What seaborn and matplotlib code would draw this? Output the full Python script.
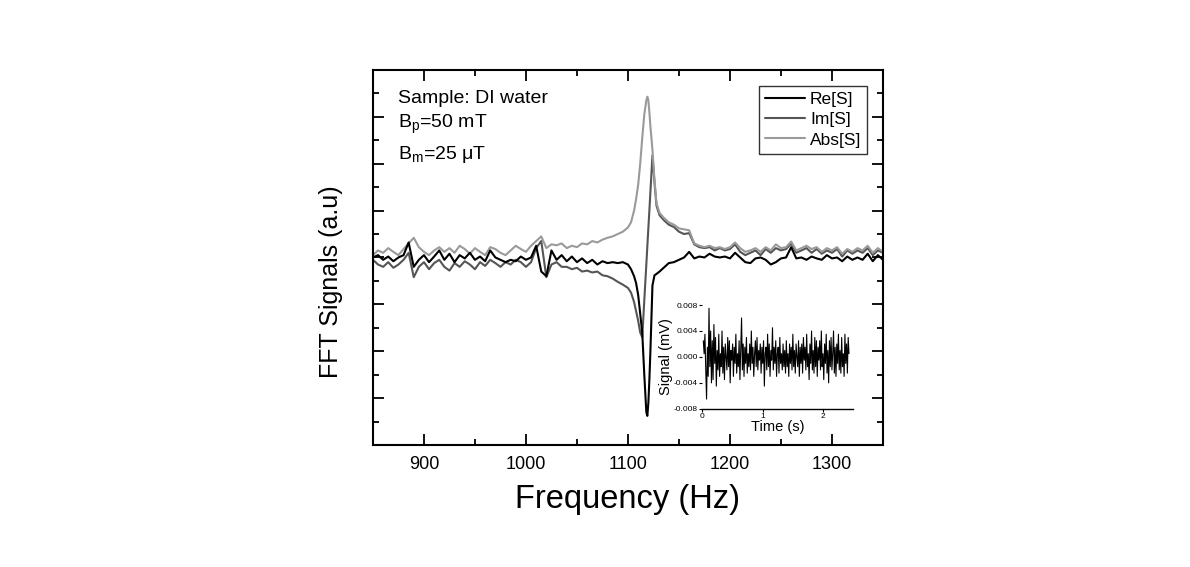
import numpy as np
import pandas as pd
import seaborn as sns
import matplotlib.pyplot as plt
from matplotlib.ticker import MultipleLocator, FormatStrFormatter

# frequency grid (Hz): coarse baseline, fine around the resonance
freq = np.concatenate([
    np.arange(850, 1101, 5),
    [1103, 1106, 1108, 1110, 1112, 1114, 1116, 1118, 1119, 1120,
     1121, 1122, 1124, 1126, 1128, 1131, 1135, 1140, 1145],
    np.arange(1150, 1351, 5),
])

re_s = [
    0.0, 0.05, -0.05, 0.02, -0.08, 0.0, 0.05, 0.32, -0.2, -0.05,
    0.05, -0.1, 0.02, 0.15, -0.05, 0.08, -0.1, 0.05, -0.02, 0.1,
    -0.05, 0.02, -0.08, 0.15, 0.0, -0.05, -0.1, -0.05, -0.08, 0.02,
    -0.05, 0.0, 0.25, -0.3, -0.4, 0.15, -0.05, 0.05, -0.08, 0.02,
    -0.1, -0.02, -0.12, -0.05, -0.15, -0.08, -0.12, -0.1, -0.12, -0.1,
    -0.15,
    -0.25, -0.4, -0.55, -0.8, -1.2, -1.6, -2.5, -3.3, -3.38, -3.1,
    -2.6, -2.0, -0.6, -0.38, -0.35, -0.3, -0.22, -0.12, -0.1,
    -0.05, 0.0, 0.12, -0.02, 0.02, 0.0, 0.08, 0.02, 0.0, 0.02,
    -0.02, 0.1, 0.0, -0.1, -0.12, -0.02, 0.0, -0.05, -0.15, -0.1,
    -0.02, 0.0, 0.22, -0.02, 0.0, -0.05, 0.02, -0.02, -0.05, 0.05,
    -0.02, 0.0, -0.08, 0.02, -0.05, 0.0, -0.05, 0.08, -0.08, 0.05,
    -0.05,
]

im_s = [
    -0.05, -0.15, -0.2, -0.1, -0.22, -0.15, -0.05, 0.1, -0.42, -0.2,
    -0.1, -0.25, -0.12, -0.05, -0.2, -0.28, -0.12, -0.2, -0.08, -0.15,
    -0.25, -0.1, -0.18, -0.05, -0.12, -0.2, -0.1, -0.15, -0.05, -0.1,
    -0.2, -0.1, 0.2, 0.35, -0.42, -0.15, -0.1, -0.2, -0.2, -0.25,
    -0.22, -0.3, -0.28, -0.32, -0.3, -0.38, -0.4, -0.45, -0.52, -0.58,
    -0.65,
    -0.75, -0.95, -1.15, -1.35, -1.6, -1.7, -0.92, -0.15, 0.24, 0.63,
    1.0, 1.4, 2.18, 1.6, 1.1, 0.9, 0.8, 0.7, 0.65,
    0.55, 0.5, 0.52, 0.28, 0.22, 0.2, 0.22, 0.15, 0.2, 0.15,
    0.18, 0.28, 0.12, 0.05, 0.1, 0.15, 0.05, 0.18, 0.1, 0.2,
    0.15, 0.18, 0.3, 0.1, 0.15, 0.2, 0.1, 0.18, 0.08, 0.15,
    0.1, 0.18, 0.02, 0.15, 0.08, 0.15, 0.1, 0.2, 0.05, 0.15,
    0.1,
]

abs_s = [
    0.05, 0.15, 0.1, 0.2, 0.12, 0.05, 0.18, 0.3, 0.42, 0.22,
    0.12, 0.05, 0.15, 0.22, 0.12, 0.2, 0.1, 0.25, 0.18, 0.08,
    0.2, 0.12, 0.05, 0.22, 0.18, 0.1, 0.05, 0.15, 0.25, 0.18,
    0.12, 0.25, 0.35, 0.45, 0.2, 0.28, 0.26, 0.3, 0.2, 0.25,
    0.22, 0.3, 0.28, 0.35, 0.32, 0.38, 0.42, 0.45, 0.5, 0.55,
    0.64,
    0.75, 1.0, 1.25, 1.55, 2.0, 2.55, 3.05, 3.35, 3.43, 3.35,
    3.1, 2.8, 2.3, 1.65, 1.15, 0.95, 0.85, 0.75, 0.7,
    0.62, 0.6, 0.58, 0.3, 0.25, 0.22, 0.25, 0.2, 0.22, 0.18,
    0.22, 0.32, 0.2, 0.12, 0.15, 0.2, 0.12, 0.22, 0.15, 0.28,
    0.2, 0.22, 0.34, 0.15, 0.2, 0.25, 0.18, 0.22, 0.12, 0.2,
    0.15, 0.22, 0.08, 0.18, 0.12, 0.2, 0.15, 0.25, 0.1, 0.2,
    0.12,
]

labels = ["Re[S]", "Im[S]", "Abs[S]"]
colors = {"Re[S]": "#000000", "Im[S]": "#555555", "Abs[S]": "#9a9a9a"}

# inset: time-domain signal, in units of 1e-3 mV
sig_e3 = [
    2.5, 0.5, 3.5, -2.0, -6.5, 1.5, -3.0, 7.5, -1.5, 4.0, -4.0, 2.5, -3.5, 5.0, -1.0, 3.0, -4.5, 1.0, -2.0, 3.5,
    -3.0, 0.5, -1.5, 4.0, -2.5, 1.5, -3.5, 2.0, 0.0, -2.0, 3.0, -1.5, 2.5, -4.0, 1.0, -0.5, 2.0, -3.0, 1.5, -1.0,
    3.5, -2.5, 0.5, -1.5, 2.5, -3.5, 1.0, 6.0, -2.0, 2.0, -3.0, 1.5, -1.0, 3.0, -2.5, 0.5, -1.5, 2.0, -2.0, 4.0,
    -1.0, 1.5, -3.0, 0.5, 2.5, -1.5, 3.0, -2.0, 1.0, -0.5, 2.0, -2.5, 1.5, -1.0, 2.5, -4.5, 0.5, 1.5, -2.0, 3.5,
    -1.5, 2.0, -3.0, 1.0, -0.5, 4.5, -2.0, 1.5, -1.0, 2.5, -3.0, 0.5, 1.5, -2.5, 3.0, -1.0, 0.5, -2.0, 2.0, -1.5,
    1.0, -2.5, 2.5, -1.5, 0.5, -3.0, 2.0, -1.0, 1.5, -2.0, 3.5, -1.5, 1.0, -2.5, 2.0, 0.0, -1.5, 2.5, -3.0, 1.5,
    -1.0, 2.0, -2.5, 3.0, -0.5, 1.5, -2.0, 3.5, -1.5, 0.5, -3.5, 2.0, -1.0, 4.0, -2.0, 1.0, -2.5, 3.0, -1.5, 2.5,
    -3.0, 1.5, -0.5, 2.5, -2.0, 4.0, -1.5, 0.5, -3.5, 2.0, -1.0, 3.5, -2.5, 1.0, -4.0, 2.5, -1.5, 3.0, -2.0, 0.5,
    4.0, -2.5, 1.5, -3.0, 2.0, -1.0, 3.5, -2.0, 1.0, -2.5, 3.0, -1.5, 0.5, -3.0, 3.5, -1.0, 2.0, -2.5, 3.0, 0.5,
]
time_s = np.linspace(0.02, 2.43, len(sig_e3))

sns.set_theme(style="ticks")
plt.rcParams["font.family"] = ["Liberation Sans", "DejaVu Sans"]
plt.rcParams["mathtext.fontset"] = "custom"
plt.rcParams["mathtext.rm"] = "Liberation Sans"
plt.rcParams["mathtext.it"] = "Liberation Sans:italic"
for key in ["text.color", "axes.labelcolor", "xtick.color", "ytick.color"]:
    plt.rcParams[key] = "black"

df = pd.DataFrame({
    "Frequency": np.tile(freq, 3),
    "Signal": re_s + im_s + abs_s,
    "Component": np.repeat(labels, len(freq)),
})

fig = plt.figure(figsize=(11.9, 5.67), dpi=100)
ax = fig.add_axes([0.3134, 0.2152, 0.4286, 0.6614])

sns.lineplot(data=df, x="Frequency", y="Signal", hue="Component", hue_order=labels,
             palette=colors, estimator=None, sort=False, lw=1.5, ax=ax)
ax.lines[0].set_zorder(4)

ax.set_xlim(850, 1350)
ax.set_ylim(-4, 4)
ax.xaxis.set_major_locator(MultipleLocator(100))
ax.xaxis.set_minor_locator(MultipleLocator(50))
ax.yaxis.set_major_locator(MultipleLocator(1))
ax.yaxis.set_minor_locator(MultipleLocator(0.5))
ax.tick_params(which="both", direction="in", top=True, right=True, width=1.3,
               labelleft=False, labelsize=13)
ax.tick_params(which="major", length=8, pad=8)
ax.tick_params(which="minor", length=4)
for s in ax.spines.values():
    s.set_linewidth(1.5)
    s.set_color("black")

ax.set_xlabel("Frequency (Hz)", fontsize=23.5, labelpad=8)
ax.set_ylabel("FFT Signals (a.u)", fontsize=18)
ax.yaxis.set_label_coords(-0.058, 0.436)

handles, labs = ax.get_legend_handles_labels()
leg = ax.legend(handles, labs, loc="upper right", fontsize=12.5, frameon=True,
                fancybox=False, edgecolor="black", handlelength=2.3,
                labelspacing=0.3, borderaxespad=0.9, borderpad=0.35,
                handletextpad=0.3)
leg.get_frame().set_linewidth(1.0)

ax.text(0.049, 0.912, "Sample: DI water", transform=ax.transAxes, fontsize=14)
ax.text(0.049, 0.845, r"B$_{\rm p}$=50 mT", transform=ax.transAxes, fontsize=14)
ax.text(0.049, 0.762, r"B$_{\rm m}$=25 μT", transform=ax.transAxes, fontsize=14)

# inset
axin = fig.add_axes([0.590, 0.279, 0.127, 0.183])
sns.lineplot(x=time_s, y=np.array(sig_e3) * 1e-3, ax=axin, color="black",
             lw=0.8, estimator=None, sort=False)
axin.set_xlim(0, 2.5)
axin.set_ylim(-0.008, 0.008)
axin.set_xticks([0, 1, 2])
axin.set_yticks([-0.008, -0.004, 0.0, 0.004, 0.008])
axin.yaxis.set_major_formatter(FormatStrFormatter("%.3f"))
axin.tick_params(labelsize=6, length=2, width=0.8, pad=1)
axin.patch.set_alpha(0)
for side in ["top", "right", "left"]:
    axin.spines[side].set_visible(False)
axin.spines["bottom"].set_linewidth(1.0)
axin.spines["bottom"].set_color("black")
axin.set_xlabel("Time (s)", fontsize=10.5, labelpad=0)
axin.set_ylabel("Signal (mV)", fontsize=10.5, labelpad=1)

fig.savefig("out.png", dpi=100)
